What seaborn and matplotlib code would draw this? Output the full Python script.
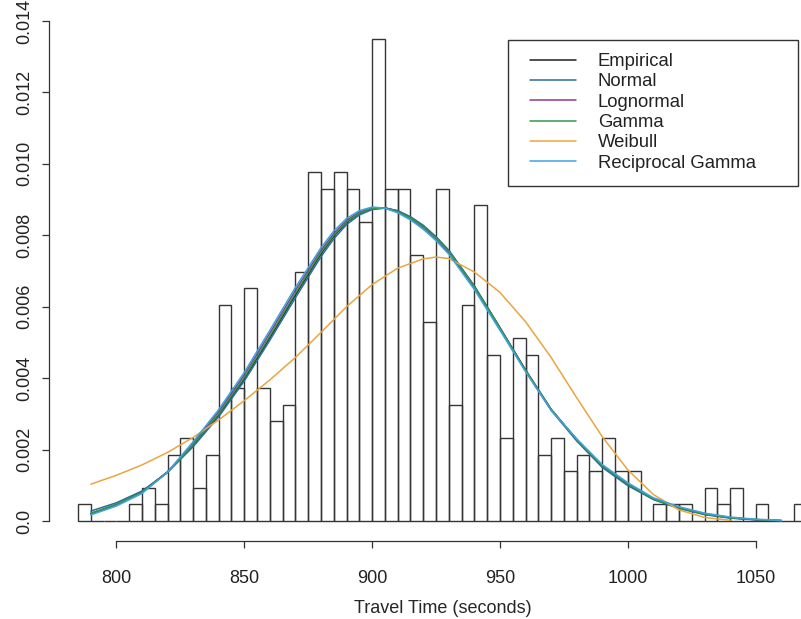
"""
Travel time histogram with fitted density curves (R-style base plot look).
"""
import numpy as np
import pandas as pd
import matplotlib
matplotlib.use("Agg")
import matplotlib.pyplot as plt
from matplotlib.patches import Rectangle
import seaborn as sns

# ── Data ──────────────────────────────────────────────────────
bin_width = 5
bin_left = np.arange(785, 1070, bin_width)   # 57 bins, 785 .. 1065
hist_density = [
    0.00047, 0.0, 0.0, 0.0, 0.00047, 0.00093, 0.00047, 0.00186, 0.00233, 0.00093,
    0.00186, 0.00605, 0.00372, 0.00651, 0.00372, 0.00279, 0.00326, 0.00698, 0.00977, 0.00930,
    0.00977, 0.00930, 0.00837, 0.01349, 0.00930, 0.00930, 0.00744, 0.00558, 0.00930, 0.00326,
    0.00605, 0.00884, 0.00465, 0.00233, 0.00512, 0.00465, 0.00186, 0.00233, 0.00140, 0.00186,
    0.00140, 0.00233, 0.00140, 0.00140, 0.0, 0.00047, 0.00047, 0.00047, 0.0, 0.00093,
    0.00047, 0.00093, 0.0, 0.00047, 0.0, 0.0, 0.00047,
]

fit_x = [790, 800, 810, 820, 830, 840, 850, 860, 870, 880, 885, 890, 895, 900, 905, 910, 915,
         920, 925, 930, 940, 950, 960, 970, 980, 990, 1000, 1010, 1020, 1030, 1040, 1050, 1060]
empirical = [0.00021, 0.00046, 0.00081, 0.00138, 0.00212, 0.00297, 0.00398, 0.00513, 0.00633, 0.00748,
             0.00797, 0.00836, 0.00861, 0.00874, 0.00877, 0.00868, 0.00850, 0.00826, 0.00794, 0.00757,
             0.00657, 0.00541, 0.00423, 0.00313, 0.00228, 0.00154, 0.00103, 0.00061, 0.00037, 0.00019,
             0.00009, 0.00004, 0.00001]
normal = [0.00028, 0.00051, 0.00084, 0.00136, 0.00208, 0.00292, 0.00392, 0.00506, 0.00625, 0.00740,
          0.00790, 0.00830, 0.00857, 0.00872, 0.00876, 0.00869, 0.00852, 0.00828, 0.00796, 0.00758,
          0.00658, 0.00541, 0.00421, 0.00310, 0.00224, 0.00150, 0.00099, 0.00060, 0.00035, 0.00018,
          0.00008, 0.00003, 0.00001]
lognormal = [0.00020, 0.00045, 0.00079, 0.00137, 0.00218, 0.00306, 0.00409, 0.00526, 0.00646, 0.00758,
             0.00805, 0.00842, 0.00865, 0.00877, 0.00876, 0.00865, 0.00846, 0.00821, 0.00789, 0.00751,
             0.00652, 0.00537, 0.00420, 0.00311, 0.00229, 0.00156, 0.00105, 0.00063, 0.00038, 0.00021,
             0.00010, 0.00004, 0.00001]
gamma = [0.00022, 0.00047, 0.00080, 0.00136, 0.00214, 0.00300, 0.00402, 0.00518, 0.00638, 0.00752,
         0.00800, 0.00838, 0.00862, 0.00875, 0.00876, 0.00866, 0.00848, 0.00824, 0.00792, 0.00755,
         0.00656, 0.00540, 0.00422, 0.00312, 0.00228, 0.00155, 0.00104, 0.00062, 0.00037, 0.00020,
         0.00009, 0.00004, 0.00001]
recip_gamma = [0.00017, 0.00042, 0.00077, 0.00137, 0.00222, 0.00312, 0.00416, 0.00534, 0.00654, 0.00765,
               0.00812, 0.00847, 0.00869, 0.00879, 0.00876, 0.00863, 0.00843, 0.00817, 0.00785, 0.00747,
               0.00648, 0.00534, 0.00418, 0.00310, 0.00230, 0.00158, 0.00107, 0.00065, 0.00040, 0.00022,
               0.00011, 0.00005, 0.00002]

weibull_x = [790, 800, 810, 820, 830, 840, 850, 860, 870, 880, 890, 900, 910, 920, 925,
             930, 940, 950, 960, 970, 980, 990, 1000, 1010, 1020, 1030, 1040]
weibull = [0.00103, 0.00128, 0.00157, 0.00192, 0.00234, 0.00283, 0.00337, 0.00395, 0.00458, 0.00528,
           0.00600, 0.00662, 0.00708, 0.00734, 0.00739, 0.00735, 0.00697, 0.00640, 0.00558, 0.00458,
           0.00345, 0.00236, 0.00143, 0.00074, 0.00031, 0.00010, 0.00002]

x_ticks = [800, 850, 900, 950, 1000, 1050]
y_ticks = [0.0, 0.002, 0.004, 0.006, 0.008, 0.010, 0.012, 0.014]
y_tick_labels = ["0.0", "0.002", "0.004", "0.006", "0.008", "0.010", "0.012", "0.014"]

COLORS = {
    "Empirical": "#1e1e1e",
    "Normal": "#2f6c9c",
    "Lognormal": "#8c3a8c",
    "Gamma": "#2f9a4a",
    "Weibull": "#eba53f",
    "Reciprocal Gamma": "#3fa3e0",
}

# ── Styling ───────────────────────────────────────────────────
sns.set_style("ticks")
plt.rcParams.update({
    "font.family": ["Liberation Sans", "DejaVu Sans"],
    "axes.edgecolor": "#333333",
    "text.color": "#222222",
    "xtick.color": "#333333",
    "ytick.color": "#333333",
    "xtick.labelcolor": "#222222",
    "ytick.labelcolor": "#222222",
})

W, H = 801, 619
fig = plt.figure(figsize=(W / 100, H / 100), dpi=100)
fig.patch.set_facecolor("white")
ax = fig.add_axes([48.9 / W, (H - 541) / H, (836 - 48.9) / W, 540 / H])

# histogram (open bars)
hist_df = pd.DataFrame({"mid": bin_left + bin_width / 2, "density": hist_density})
edges = [float(e) for e in np.append(bin_left, bin_left[-1] + bin_width)]
sns.histplot(data=hist_df, x="mid", weights="density", bins=edges, stat="count",
             fill=False, color="#353535", linewidth=1.0, ax=ax)

# fitted curves
curves = [
    ("Empirical", fit_x, empirical),
    ("Normal", fit_x, normal),
    ("Lognormal", fit_x, lognormal),
    ("Gamma", fit_x, gamma),
    ("Weibull", weibull_x, weibull),
    ("Reciprocal Gamma", fit_x, recip_gamma),
]
for name, xs, ys in curves:
    sns.lineplot(x=xs, y=ys, color=COLORS[name], linewidth=1.1, label=name, ax=ax)

ax.set_xlim(773.6, 1081.4)
ax.set_ylim(-0.00056, 0.01456)

sns.despine(ax=ax)
ax.spines["left"].set_bounds(0.0, 0.014)
ax.spines["bottom"].set_bounds(800, 1050)
for s in ("left", "bottom"):
    ax.spines[s].set_linewidth(0.9)

ax.set_xticks(x_ticks)
ax.set_xticklabels([str(t) for t in x_ticks])
ax.set_yticks(y_ticks)
ax.set_yticklabels(y_tick_labels, rotation=90, va="center")
ax.tick_params(axis="both", direction="out", length=5, width=0.9, labelsize=13)
ax.tick_params(axis="x", pad=16)
ax.tick_params(axis="y", pad=6)

ax.set_ylabel("")
ax.set_xlabel("Travel Time (seconds)", fontsize=13, labelpad=9.5)

# legend: R-style box drawn as a separate frame
handles, labels = ax.get_legend_handles_labels()
ax.legend(handles, labels, loc="upper left", frameon=False, fontsize=13.3,
          bbox_to_anchor=(530 / W, 1 - 53.0 / H), bbox_transform=fig.transFigure,
          borderpad=0, borderaxespad=0, handlelength=2.5, handletextpad=1.18,
          labelspacing=0.18)
fig.add_artist(Rectangle((507.7 / W, 1 - 186 / H), 290.3 / W, 146 / H,
                         transform=fig.transFigure, fill=False,
                         edgecolor="#333333", linewidth=1.0))

fig.savefig("out.png", dpi=100, facecolor="white")
plt.close(fig)
